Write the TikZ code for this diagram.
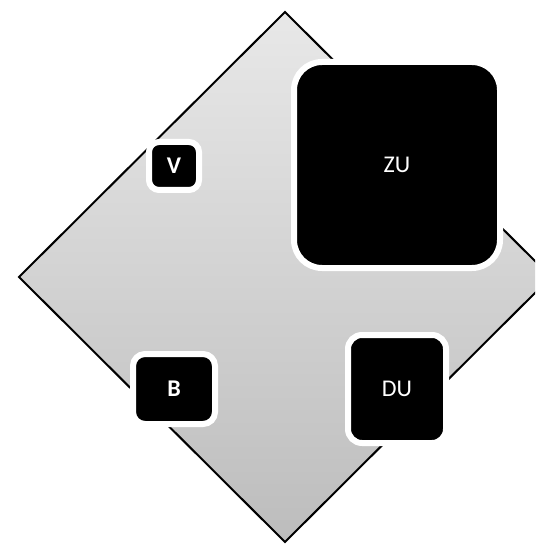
\documentclass[tikz,border=0pt]{standalone}
\usepackage{fontspec}
\setmainfont{Carlito}
\usetikzlibrary{shadows}

\begin{document}
\begin{tikzpicture}[x=1pt, y=-1pt, every node/.style={font=\fontsize{24}{28}\selectfont, text=white},
	tile/.style={fill=black, draw=white, line width=6pt, inner sep=0pt, drop shadow={opacity=0.35, shadow xshift=1pt, shadow yshift=-2pt}}]
	\useasboundingbox (0,0) rectangle (535,545);
	\clip (0,0) rectangle (535,545);
	% backdrop diamond
	\path[draw=black, line width=2pt, top color=white!91!black, bottom color=white!74!black] (285,12) -- (551,277) -- (285,542) -- (19,277) -- cycle;
	\node[tile, rounded corners=10pt, minimum width=50pt, minimum height=48pt, font=\fontsize{24}{28}\selectfont\bfseries] (V) at (174,166) {V};
	\node[tile, rounded corners=28pt, minimum width=206pt, minimum height=206pt] (ZU) at (397,165) {ZU};
	\node[tile, rounded corners=12pt, minimum width=82pt, minimum height=70pt, font=\fontsize{24}{28}\selectfont\bfseries] (B) at (174,389) {B};
	\node[tile, rounded corners=14pt, minimum width=98pt, minimum height=108pt] (DU) at (397,389) {DU};
\end{tikzpicture}
\end{document}
